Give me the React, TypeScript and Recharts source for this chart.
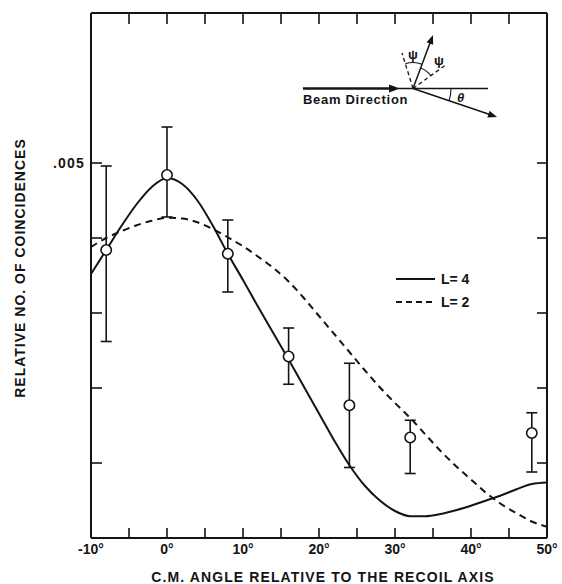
import React from 'react';
import { ComposedChart, Line, Scatter, ErrorBar, XAxis, YAxis, Customized } from 'recharts';

// ---- data (y values in thousandths: 1 = .001) ----
const SCALE = 0.001;
const xTickValues = [-10, -5, 0, 5, 10, 15, 20, 25, 30, 35, 40, 45, 50];
const yTickValues = [0.001, 0.002, 0.003, 0.004, 0.005];
const yLabelledTick = 0.005;
const yLabelText = '.005';

const pointAngles = [-8, 0, 8, 16, 24, 32, 48];
const pointValues = [3.84, 4.84, 3.79, 2.42, 1.77, 1.34, 1.40];
const pointHighs = [4.96, 5.48, 4.24, 2.80, 2.33, 1.57, 1.67];
const pointLows = [2.62, 4.28, 3.28, 2.05, 0.94, 0.86, 0.88];

const curveAngles = [-10, -8, -6, -4, -2, 0, 2, 4, 6, 8, 10, 12, 14, 16, 18, 20, 22, 24, 26, 28, 30, 32, 34, 36, 38, 40, 42, 44, 46, 48, 50];
const l4Values = [3.52, 3.84, 4.16, 4.45, 4.68, 4.80, 4.72, 4.50, 4.17, 3.79, 3.44, 3.08, 2.73, 2.38, 2.02, 1.66, 1.30, 0.97, 0.70, 0.50, 0.36, 0.29, 0.29, 0.32, 0.37, 0.43, 0.50, 0.57, 0.65, 0.72, 0.74];
const l2Values = [3.88, 4.00, 4.09, 4.17, 4.23, 4.27, 4.26, 4.21, 4.12, 4.01, 3.89, 3.75, 3.60, 3.42, 3.20, 2.96, 2.72, 2.48, 2.24, 2.01, 1.80, 1.60, 1.38, 1.16, 0.96, 0.78, 0.60, 0.45, 0.33, 0.22, 0.15];

const legendLabels = ['L= 4', 'L= 2'];
const xTitle = 'C.M. ANGLE  RELATIVE TO THE RECOIL AXIS';
const yTitle = 'RELATIVE NO. OF COINCIDENCES';
const beamText = 'Beam Direction';

// ---- tables built from the arrays ----
const l4Data = curveAngles.map((x, i) => ({ x, y: l4Values[i] * SCALE }));
const l2Data = curveAngles.map((x, i) => ({ x, y: l2Values[i] * SCALE }));
const pointData = pointAngles.map((x, i) => ({
  x,
  y: pointValues[i] * SCALE,
  err: [(pointValues[i] - pointLows[i]) * SCALE, (pointHighs[i] - pointValues[i]) * SCALE],
}));

const INK = '#141414';
const FONT = '"Liberation Sans", Arial, sans-serif';

const BottomTick = (props: any) => {
  const { x, y, payload } = props;
  const v = payload.value;
  return (
    <g>
      <line x1={x} x2={x} y1={y} y2={y - 10} stroke={INK} strokeWidth={1.6} />
      {v % 10 === 0 && (
        <text x={x} y={y + 16} textAnchor="middle" fontFamily={FONT} fontSize={14} fontWeight="bold" fill={INK}>
          {`${v}°`}
        </text>
      )}
    </g>
  );
};

const TopTick = (props: any) => {
  const { x, y } = props;
  return <line x1={x} x2={x} y1={y} y2={y + 11} stroke={INK} strokeWidth={1.6} />;
};

const LeftTick = (props: any) => {
  const { x, y, payload } = props;
  const labelled = Math.abs(payload.value - yLabelledTick) < 1e-9;
  return (
    <g>
      <line x1={x} x2={x + 11} y1={y} y2={y} stroke={INK} strokeWidth={1.6} />
      {labelled && (
        <text x={x - 6} y={y + 5} textAnchor="end" fontFamily={FONT} fontSize={14} fontWeight="bold" letterSpacing={1.2} fill={INK}>
          {yLabelText}
        </text>
      )}
    </g>
  );
};

const RightTick = (props: any) => {
  const { x, y } = props;
  return <line x1={x} x2={x - 10} y1={y} y2={y} stroke={INK} strokeWidth={1.6} />;
};

const renderCircle = (props: any) => {
  const { cx, cy } = props;
  return <circle cx={cx} cy={cy} r={5.2} fill="#fff" stroke={INK} strokeWidth={1.6} />;
};

function arrowHead(x1: number, y1: number, x2: number, y2: number, len = 9, half = 3.5) {
  const dx = x2 - x1;
  const dy = y2 - y1;
  const d = Math.hypot(dx, dy);
  const ux = dx / d;
  const uy = dy / d;
  const bx = x2 - ux * len;
  const by = y2 - uy * len;
  return `${x2},${y2} ${bx - uy * half},${by + ux * half} ${bx + uy * half},${by - ux * half}`;
}

function arcPath(cx: number, cy: number, r: number, a1: [number, number], a2: [number, number]) {
  const u1 = Math.hypot(a1[0], a1[1]);
  const u2 = Math.hypot(a2[0], a2[1]);
  const p1x = cx + (a1[0] / u1) * r;
  const p1y = cy + (a1[1] / u1) * r;
  const p2x = cx + (a2[0] / u2) * r;
  const p2y = cy + (a2[1] / u2) * r;
  return `M${p1x},${p1y} A${r},${r} 0 0 1 ${p2x},${p2y}`;
}

const Decorations = () => {
  const vx = 413;
  const vy = 88.5;
  const psiEnd: [number, number] = [433, 35];
  const thetaEnd: [number, number] = [497, 117];
  const dashL: [number, number] = [402, 53];
  const dashR: [number, number] = [447, 64];
  return (
    <g>
      {/* legend */}
      <line x1={396} x2={435} y1={279} y2={279} stroke={INK} strokeWidth={2} />
      <text x={441} y={284} fontFamily={FONT} fontSize={14} fontWeight="bold" fill={INK}>{legendLabels[0]}</text>
      <line x1={396} x2={435} y1={302} y2={302} stroke={INK} strokeWidth={2} strokeDasharray="6 4" />
      <text x={441} y={307} fontFamily={FONT} fontSize={14} fontWeight="bold" fill={INK}>{legendLabels[1]}</text>

      {/* inset diagram */}
      <line x1={303} x2={393} y1={vy} y2={vy} stroke={INK} strokeWidth={2.6} />
      <polygon points={arrowHead(303, vy, 400, vy, 11, 4)} fill={INK} />
      <line x1={398} x2={488} y1={vy} y2={vy} stroke={INK} strokeWidth={1.4} />
      <line x1={vx} y1={vy} x2={thetaEnd[0] - 5} y2={thetaEnd[1] - 1.7} stroke={INK} strokeWidth={1.5} />
      <polygon points={arrowHead(vx, vy, thetaEnd[0], thetaEnd[1])} fill={INK} />
      <line x1={vx} y1={vy} x2={psiEnd[0] - 1.7} y2={psiEnd[1] + 4.6} stroke={INK} strokeWidth={1.5} />
      <polygon points={arrowHead(vx, vy, psiEnd[0], psiEnd[1])} fill={INK} />
      <line x1={vx} y1={vy} x2={dashL[0]} y2={dashL[1]} stroke={INK} strokeWidth={1.3} strokeDasharray="4 3" />
      <line x1={vx} y1={vy} x2={dashR[0]} y2={dashR[1]} stroke={INK} strokeWidth={1.3} strokeDasharray="4 3" />
      <path d={arcPath(vx, vy, 26, [dashL[0] - vx, dashL[1] - vy], [psiEnd[0] - vx, psiEnd[1] - vy])} fill="none" stroke={INK} strokeWidth={1.1} />
      <path d={arcPath(vx, vy, 22, [psiEnd[0] - vx, psiEnd[1] - vy], [dashR[0] - vx, dashR[1] - vy])} fill="none" stroke={INK} strokeWidth={1.1} />
      <path d={arcPath(vx, vy, 38, [1, 0], [thetaEnd[0] - vx, thetaEnd[1] - vy])} fill="none" stroke={INK} strokeWidth={1.1} />
      <text x={408} y={59} fontFamily={FONT} fontSize={13} fontWeight="bold" fill={INK}>ψ</text>
      <text x={434} y={65} fontFamily={FONT} fontSize={13} fontWeight="bold" fill={INK}>ψ</text>
      <text x={457} y={102} fontFamily={FONT} fontSize={13} fontStyle="italic" fontWeight="bold" fill={INK}>θ</text>
      <text x={303} y={104} fontFamily={FONT} fontSize={13} fontWeight="bold" letterSpacing={0.7} fill={INK}>{beamText}</text>

      {/* axis titles */}
      <text x={323} y={582} textAnchor="middle" fontFamily={FONT} fontSize={14} fontWeight="bold" letterSpacing={1.1} fill={INK}>
        {xTitle}
      </text>
      <text x={25} y={268} textAnchor="middle" transform="rotate(-90 25 268)" fontFamily={FONT} fontSize={14} fontWeight="bold" letterSpacing={1.0} fill={INK}>
        {yTitle}
      </text>
    </g>
  );
};

export default function App() {
  const axisLine = { stroke: INK, strokeWidth: 2 };
  return (
    <div style={{ position: 'absolute', left: 0, top: 0, width: 562, height: 584, background: '#fff' }}>
      <ComposedChart width={562} height={584} margin={{ top: 1, right: 0, bottom: 0, left: 0 }}>
        <XAxis
          xAxisId="bottom"
          dataKey="x"
          type="number"
          domain={[-10, 50]}
          ticks={xTickValues}
          interval={0}
          allowDataOverflow
          height={46}
          tickSize={0}
          tickMargin={0}
          tickLine={false}
          axisLine={axisLine}
          tick={BottomTick}
        />
        <XAxis
          xAxisId="top"
          orientation="top"
          dataKey="x"
          type="number"
          domain={[-10, 50]}
          ticks={xTickValues}
          interval={0}
          allowDataOverflow
          height={12}
          tickSize={0}
          tickMargin={0}
          tickLine={false}
          axisLine={axisLine}
          tick={TopTick}
        />
        <YAxis
          yAxisId="left"
          type="number"
          domain={[0, 0.007]}
          ticks={yTickValues}
          interval={0}
          allowDataOverflow
          width={91}
          tickSize={0}
          tickMargin={0}
          tickLine={false}
          axisLine={axisLine}
          tick={LeftTick}
        />
        <YAxis
          yAxisId="right"
          orientation="right"
          type="number"
          domain={[0, 0.007]}
          ticks={yTickValues}
          interval={0}
          allowDataOverflow
          width={15}
          tickSize={0}
          tickMargin={0}
          tickLine={false}
          axisLine={axisLine}
          tick={RightTick}
        />
        <Line
          data={l2Data}
          xAxisId="top"
          yAxisId="right"
          dataKey="y"
          stroke="transparent"
          dot={false}
          activeDot={false}
          isAnimationActive={false}
        />
        <Line
          data={l2Data}
          xAxisId="bottom"
          yAxisId="left"
          dataKey="y"
          type="monotone"
          stroke={INK}
          strokeWidth={2}
          strokeDasharray="7 5"
          dot={false}
          activeDot={false}
          isAnimationActive={false}
        />
        <Line
          data={l4Data}
          xAxisId="bottom"
          yAxisId="left"
          dataKey="y"
          type="monotone"
          stroke={INK}
          strokeWidth={2}
          dot={false}
          activeDot={false}
          isAnimationActive={false}
        />
        <Scatter
          data={pointData}
          xAxisId="bottom"
          yAxisId="left"
          dataKey="y"
          shape={renderCircle}
          isAnimationActive={false}
        >
          <ErrorBar dataKey="err" direction="y" width={5.5} stroke={INK} strokeWidth={1.6} isAnimationActive={false} />
        </Scatter>
        <Customized component={Decorations} />
      </ComposedChart>
    </div>
  );
}
